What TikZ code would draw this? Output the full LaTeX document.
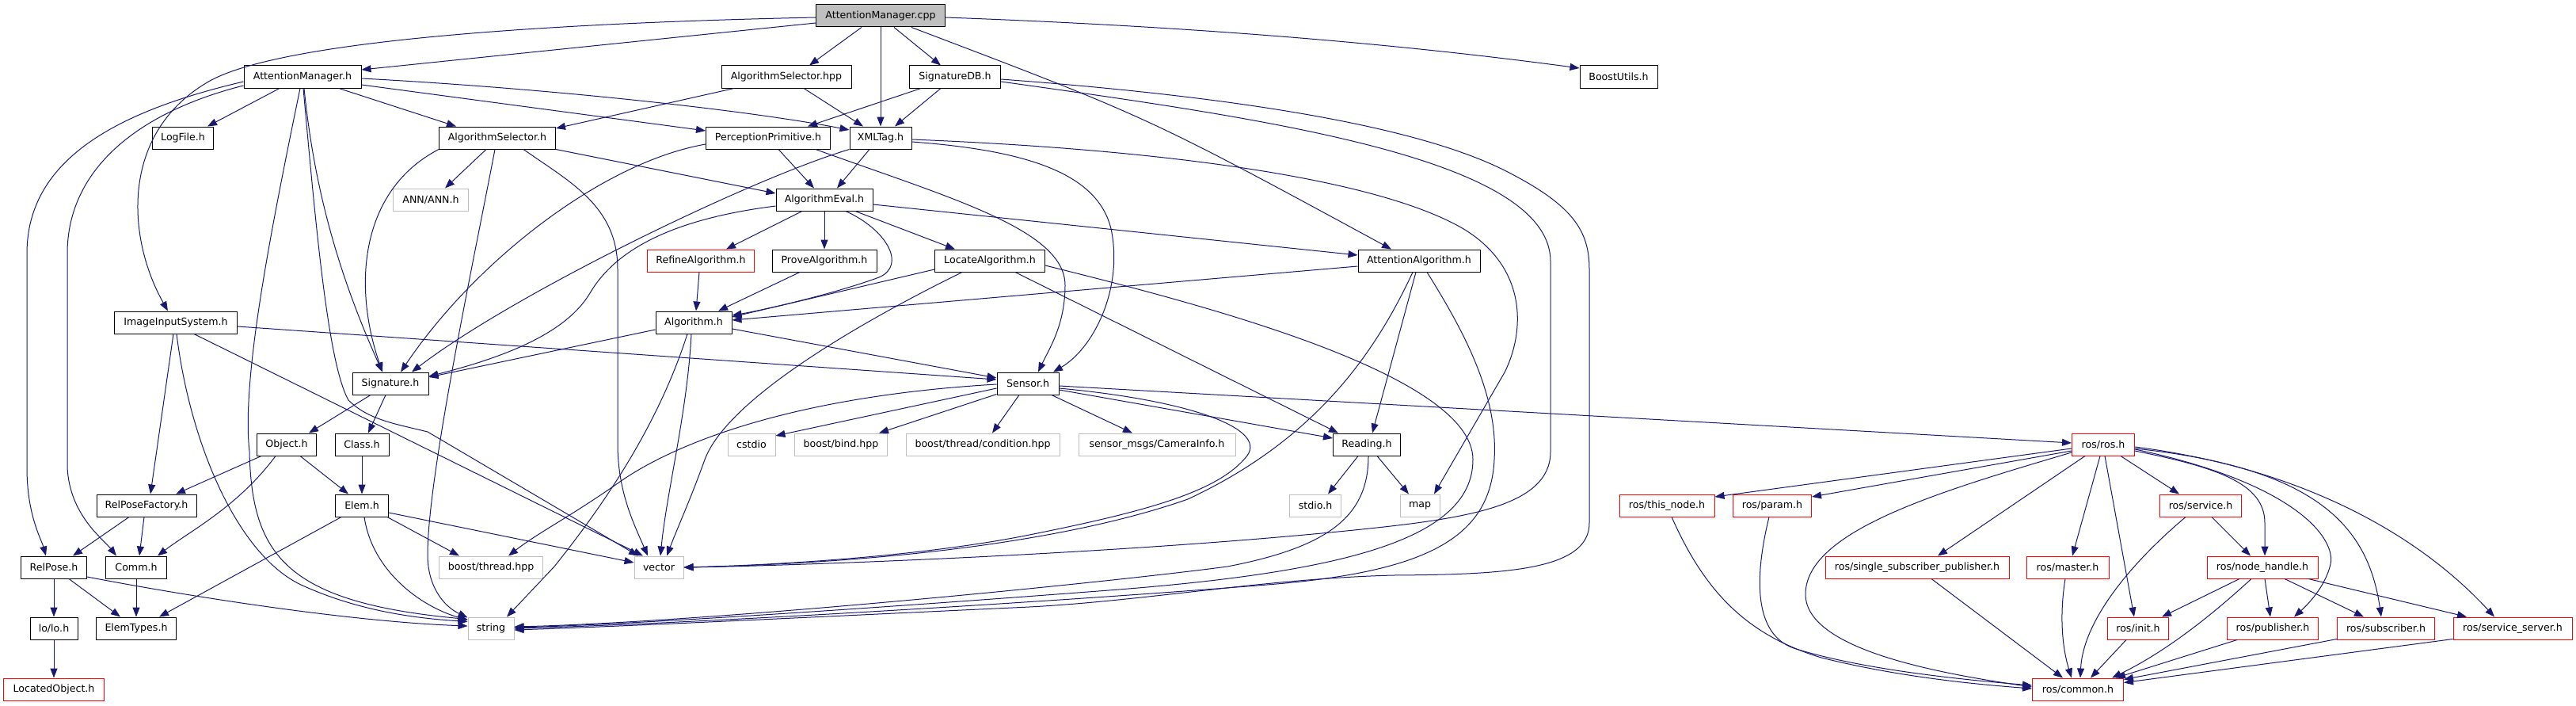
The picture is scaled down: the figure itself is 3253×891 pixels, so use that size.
\documentclass[tikz,border=0pt]{standalone}
\usepackage{fontspec}
\setmainfont{DejaVu Sans}
\usetikzlibrary{arrows.meta}
\definecolor{edgec}{HTML}{191970}
\definecolor{grayb}{HTML}{BFBFBF}
\definecolor{redb}{HTML}{FF0000}
\definecolor{rootf}{HTML}{BFBFBF}
\newcommand{\dgfont}{\fontsize{12.6pt}{15pt}\selectfont}
\tikzset{
  nodebox/.style={rectangle, minimum height=28pt, inner sep=0pt, line width=1pt, font=\dgfont, fill=white},
  nb/.style={nodebox, draw=black},
  gb/.style={nodebox, draw=grayb},
  rb/.style={nodebox, draw=redb},
  rootb/.style={nodebox, draw=black, fill=rootf},
  edg/.style={draw=edgec, line width=1pt, -{Triangle[length=12pt,width=9pt]}}
}
\begin{document}
\begin{tikzpicture}[x=1pt,y=-1pt]
\useasboundingbox (0,0) rectangle (3253,891);
% nodes
\node[rootb, minimum width=163pt] (cpp) at (1112,20) {AttentionManager.cpp};
\node[nb, minimum width=148pt] (amh) at (382,97) {AttentionManager.h};
\node[nb, minimum width=164pt] (ash) at (993,97) {AlgorithmSelector.hpp};
\node[nb, minimum width=115pt] (sdb) at (1206,97) {SignatureDB.h};
\node[nb, minimum width=98pt] (boost) at (2044,97) {BoostUtils.h};
\node[nb, minimum width=77pt] (log) at (231,174) {LogFile.h};
\node[nb, minimum width=147pt] (asel) at (628,174) {AlgorithmSelector.h};
\node[nb, minimum width=157pt] (pp) at (970,174) {PerceptionPrimitive.h};
\node[nb, minimum width=78pt] (xml) at (1112,174) {XMLTag.h};
\node[gb, minimum width=95pt] (ann) at (544,252) {ANN/ANN.h};
\node[nb, minimum width=122pt] (aev) at (1041,252) {AlgorithmEval.h};
\node[rb, minimum width=135pt] (ref) at (885,329) {RefineAlgorithm.h};
\node[nb, minimum width=132pt] (prove) at (1041,329) {ProveAlgorithm.h};
\node[nb, minimum width=139pt] (loc) at (1250,329) {LocateAlgorithm.h};
\node[nb, minimum width=154pt] (atta) at (1792,329) {AttentionAlgorithm.h};
\node[nb, minimum width=155pt] (iis) at (222,407) {ImageInputSystem.h};
\node[nb, minimum width=96pt] (alg) at (876,407) {Algorithm.h};
\node[nb, minimum width=96pt] (sig) at (493,484) {Signature.h};
\node[nb, minimum width=78pt] (sens) at (1298,484) {Sensor.h};
\node[nb, minimum width=75pt] (obj) at (362,561) {Object.h};
\node[nb, minimum width=68pt] (cls) at (457,561) {Class.h};
\node[gb, minimum width=60pt] (cstdio) at (949,561) {cstdio};
\node[gb, minimum width=117pt] (bbind) at (1062,561) {boost/bind.hpp};
\node[gb, minimum width=194pt] (bcond) at (1241,561) {boost/thread/condition.hpp};
\node[gb, minimum width=198pt] (cam) at (1461,561) {sensor\_msgs/CameraInfo.h};
\node[nb, minimum width=85pt] (read) at (1726,561) {Reading.h};
\node[rb, minimum width=79pt] (ros) at (2656,561) {ros/ros.h};
\node[nb, minimum width=126pt] (rpf) at (185,638) {RelPoseFactory.h};
\node[nb, minimum width=67pt] (elem) at (457,638) {Elem.h};
\node[gb, minimum width=65pt] (stdio) at (1661,638) {stdio.h};
\node[gb, minimum width=50pt] (map) at (1793,638) {map};
\node[rb, minimum width=120pt] (thisn) at (2105,638) {ros/this\_node.h};
\node[rb, minimum width=99pt] (param) at (2238,638) {ros/param.h};
\node[rb, minimum width=103pt] (serv) at (2779,638) {ros/service.h};
\node[nb, minimum width=83pt] (rp) at (68,716) {RelPose.h};
\node[nb, minimum width=77pt] (comm) at (172,716) {Comm.h};
\node[gb, minimum width=131pt] (bth) at (620,716) {boost/thread.hpp};
\node[gb, minimum width=62pt] (vec) at (832,716) {vector};
\node[rb, minimum width=232pt] (ssp) at (2421,716) {ros/single\_subscriber\_publisher.h};
\node[rb, minimum width=104pt] (master) at (2611,716) {ros/master.h};
\node[rb, minimum width=140pt] (nh) at (2857,716) {ros/node\_handle.h};
\node[nb, minimum width=60pt] (lo) at (68,793) {lo/lo.h};
\node[nb, minimum width=101pt] (et) at (172,793) {ElemTypes.h};
\node[gb, minimum width=58pt] (str) at (620,793) {string};
\node[rb, minimum width=77pt] (init) at (2700,793) {ros/init.h};
\node[rb, minimum width=115pt] (pub) at (2870,793) {ros/publisher.h};
\node[rb, minimum width=123pt] (sub) at (3013,793) {ros/subscriber.h};
\node[rb, minimum width=150pt] (ss) at (3173,793) {ros/service\_server.h};
\node[rb, minimum width=127pt] (locobj) at (68,870) {LocatedObject.h};
\node[rb, minimum width=115pt] (common) at (2624,870) {ros/common.h};
% cpp edges
\draw[edg] ([yshift=-9pt]cpp.west) -- ([yshift=9pt]amh.east);
\draw[edg] ([yshift=-2pt]cpp.west) .. controls (650,30) and (340,55) .. (260,105) .. controls (152,170) and (160,300) .. ([xshift=-10pt]iis.north);
\draw[edg] ([xshift=-24pt]cpp.south) -- ([xshift=29pt]ash.north);
\draw[edg] (cpp.south) -- (xml.north);
\draw[edg] ([xshift=17pt]cpp.south) -- ([xshift=-18pt]sdb.north);
\draw[edg] ([xshift=39pt]cpp.south) .. controls (1450,148) .. ([xshift=-35pt]atta.north);
\draw[edg] ([yshift=-2pt]cpp.east) .. controls (1550,35) and (1800,60) .. ([yshift=11pt]boost.west);
% amh edges
\draw[edg] ([xshift=-29pt]amh.south) -- ([xshift=31pt]log.north);
\draw[edg] ([xshift=46pt]amh.south) -- ([xshift=-52pt]asel.north);
\draw[edg] ([yshift=-10pt]amh.east) -- ([yshift=9pt]pp.west);
\draw[edg] ([yshift=-2pt]amh.east) .. controls (700,112) and (950,140) .. ([yshift=10pt]xml.west);
\draw[edg] ([xshift=2pt]amh.south) .. controls (395,220) and (420,330) .. ([xshift=-10pt]sig.north);
\draw[edg] ([xshift=1pt]amh.south) .. controls (400,300) and (415,460) .. (440,505) .. controls (465,530) and (500,535) .. (540,545) -- ([xshift=-26pt]vec.north);
\draw[edg] ([xshift=-3pt]amh.south) .. controls (340,300) and (305,480) .. (315,570) .. controls (318,700) and (360,760) .. ([yshift=-3pt]str.north west);
\draw[edg] ([yshift=-6pt]amh.west) .. controls (150,140) and (34,200) .. (34,320) -- (34,590) .. controls (34,650) and (52,680) .. ([xshift=-10pt]rp.north);
\draw[edg] ([yshift=-11pt]amh.west) .. controls (180,140) and (85,210) .. (85,320) -- (85,590) .. controls (88,650) and (130,680) .. ([xshift=-25pt]comm.north);
% AlgorithmSelector.hpp
\draw[edg] ([xshift=-66pt]ash.south) -- ([yshift=12pt]asel.east);
\draw[edg] ([xshift=22pt]ash.south) -- ([xshift=-22pt]xml.north);
% SignatureDB
\draw[edg] ([xshift=-43pt]sdb.south) -- ([xshift=50pt]pp.north);
\draw[edg] ([xshift=-18pt]sdb.south) -- ([xshift=18pt]xml.north);
\draw[edg] ([yshift=-6pt]sdb.east) .. controls (1600,150) and (1958,200) .. (1958,330) -- (1958,570) .. controls (1958,640) and (1850,655) .. (1700,670) .. controls (1400,700) and (1000,714) .. (vec.east);
\draw[edg] ([yshift=-3pt]sdb.east) .. controls (1600,125) and (1800,165) .. (1900,215) .. controls (1985,258) and (2007,290) .. (2007,340) -- (2007,660) .. controls (2007,720) and (1900,725) .. (1760,726) .. controls (1600,730) and (1450,758) .. (1300,766) .. controls (1000,780) and (800,790) .. ([yshift=-2pt]str.east);
% XMLTag
\draw[edg] ([xshift=-14pt]xml.south) -- ([xshift=16pt]aev.north);
\draw[edg] (xml.south west) .. controls (950,225) and (650,370) .. ([xshift=27pt]sig.north);
\draw[edg] ([yshift=-2pt]xml.east) .. controls (1500,190) and (1750,230) .. (1850,290) .. controls (1930,340) and (1925,420) .. (1900,470) -- ([xshift=18pt]map.north);
\draw[edg] ([yshift=-5pt]xml.east) .. controls (1300,190) and (1395,220) .. (1405,300) .. controls (1415,370) and (1380,440) .. ([xshift=32pt]sens.north);
% PerceptionPrimitive
\draw[edg] ([xshift=13pt]pp.south) -- ([xshift=-13pt]aev.north);
\draw[edg] ([yshift=-8pt]pp.west) .. controls (760,205) and (600,330) .. ([xshift=13pt]sig.north);
\draw[edg] ([xshift=60pt]pp.south) .. controls (1200,250) and (1345,290) .. (1345,360) .. controls (1345,410) and (1325,440) .. ([xshift=13pt]sens.north);
% AlgorithmSelector.h
\draw[edg] ([xshift=-14pt]asel.south) -- ([xshift=18pt]ann.north);
\draw[edg] (asel.south east) -- ([yshift=8pt]aev.west);
\draw[edg] (asel.south west) .. controls (455,240) and (445,360) .. ([xshift=-10pt]sig.north);
\draw[edg] ([xshift=33pt]asel.south) .. controls (720,230) and (780,260) .. (780,340) -- (780,560) .. controls (780,620) and (800,660) .. ([xshift=-14pt]vec.north);
\draw[edg] ([xshift=-3pt]asel.south) .. controls (600,320) and (540,600) .. (540,700) .. controls (540,740) and (560,765) .. ([yshift=-1pt]str.north west);
% AlgorithmEval
\draw[edg] ([xshift=-28pt]aev.south) -- ([xshift=32pt]ref.north);
\draw[edg] (aev.south) -- (prove.north);
\draw[edg] ([xshift=39pt]aev.south) -- ([xshift=-44pt]loc.north);
\draw[edg] ([xshift=27pt]aev.south) .. controls (1120,290) and (1145,335) .. (1110,350) .. controls (1050,372) and (960,392) .. ([yshift=9pt]alg.east);
\draw[edg] ([yshift=-6pt]aev.east) -- ([yshift=7pt]atta.west);
\draw[edg] ([yshift=-8pt]aev.west) .. controls (860,275) and (780,310) .. (745,370) .. controls (715,420) and (640,450) .. ([yshift=9pt]sig.east);
% Refine / Prove
\draw[edg] ([xshift=-2pt]ref.south) -- ([xshift=3pt]alg.north);
\draw[edg] ([xshift=-31pt]prove.south) -- ([xshift=31pt]alg.north);
% LocateAlgorithm
\draw[edg] ([yshift=-11pt]loc.west) -- ([yshift=7pt]alg.east);
\draw[edg] ([xshift=-35pt]loc.south) .. controls (1100,400) and (920,500) .. (890,580) .. controls (872,630) and (856,665) .. ([xshift=10pt]vec.north);
\draw[edg] ([xshift=32pt]loc.south) -- ([xshift=-36pt]read.north);
\draw[edg] ([yshift=-6pt]loc.east) .. controls (1500,380) and (1860,470) .. (1860,580) .. controls (1860,680) and (1700,722) .. (1400,745) .. controls (1100,768) and (800,788) .. ([yshift=1pt]str.east);
% AttentionAlgorithm
\draw[edg] ([yshift=-7pt]atta.west) -- ([yshift=3pt]alg.east);
\draw[edg] ([xshift=-8pt]atta.south) .. controls (1730,460) and (1650,560) .. (1500,630) .. controls (1300,700) and (1000,713) .. (vec.east);
\draw[edg] ([xshift=-4pt]atta.south) -- ([xshift=7pt]read.north);
\draw[edg] ([xshift=10pt]atta.south) .. controls (1850,420) and (1892,500) .. (1887,580) .. controls (1882,680) and (1800,722) .. (1600,738) .. controls (1300,762) and (850,788) .. (str.east);
% Reading
\draw[edg] ([xshift=-11pt]read.south) -- ([xshift=16pt]stdio.north);
\draw[edg] ([xshift=13pt]read.south) -- ([xshift=-14pt]map.north);
\draw[edg] ([xshift=2pt]read.south) .. controls (1728,650) and (1680,690) .. (1550,715) .. controls (1400,735) and (900,785) .. ([yshift=2pt]str.east);
% Algorithm
\draw[edg] ([yshift=-8pt]alg.east) -- ([yshift=7pt]sens.west);
\draw[edg] ([yshift=-9pt]alg.west) -- ([yshift=8pt]sig.east);
\draw[edg] ([xshift=-3pt]alg.south) .. controls (868,520) and (842,620) .. ([xshift=2pt]vec.north);
\draw[edg] ([xshift=-8pt]alg.south) .. controls (830,540) and (760,640) .. (700,715) -- ([xshift=20pt]str.north);
% ImageInputSystem
\draw[edg] ([yshift=-5pt]iis.east) -- ([yshift=5pt]sens.west);
\draw[edg] ([xshift=-3pt]iis.south) -- ([xshift=5pt]rpf.north);
\draw[edg] ([xshift=1pt]iis.south) .. controls (240,560) and (300,700) .. (380,738) .. controls (450,770) and (520,780) .. ([yshift=-6pt]str.north west);
\draw[edg] ([xshift=23pt]iis.south) -- ([xshift=-20pt]vec.north);
% Signature
\draw[edg] ([xshift=-25pt]sig.south) -- ([xshift=28pt]obj.north);
\draw[edg] ([xshift=-6pt]sig.south) -- ([xshift=8pt]cls.north);
% Object / Class
\draw[edg] ([xshift=-32pt]obj.south) -- ([xshift=37pt]rpf.north);
\draw[edg] ([xshift=-14pt]obj.south) .. controls (300,640) and (240,670) .. ([xshift=27pt]comm.north);
\draw[edg] ([xshift=17pt]obj.south) -- ([xshift=-17pt]elem.north);
\draw[edg] (cls.south) -- (elem.north);
% RelPoseFactory
\draw[edg] ([xshift=-22pt]rpf.south) -- ([xshift=24pt]rp.north);
\draw[edg] ([xshift=-3pt]rpf.south) -- ([xshift=4pt]comm.north);
% Elem
\draw[edg] ([xshift=-26pt]elem.south) -- ([xshift=29pt]et.north);
\draw[edg] ([xshift=3pt]elem.south) .. controls (470,720) and (530,765) .. ([yshift=-4pt]str.north west);
\draw[edg] ([xshift=32pt]elem.south) -- ([xshift=-40pt]bth.north);
\draw[edg] ([yshift=-9pt]elem.east) -- ([yshift=6pt]vec.west);
% RelPose / Comm / lo
\draw[edg] (rp.south) -- (lo.north);
\draw[edg] ([xshift=19pt]rp.south) -- ([xshift=-20pt]et.north);
\draw[edg] ([yshift=-12pt]rp.east) .. controls (250,755) and (450,785) .. ([yshift=3pt]str.west);
\draw[edg] (comm.south) -- (et.north);
\draw[edg] (lo.south) -- (locobj.north);
% Sensor
\draw[edg] ([yshift=-6pt]sens.west) -- ([yshift=11pt]cstdio.east);
\draw[edg] ([yshift=1pt]sens.south west) -- ([xshift=48pt]bbind.north);
\draw[edg] ([xshift=-11pt]sens.south) -- ([xshift=12pt]bcond.north);
\draw[edg] ([xshift=30pt]sens.south) -- ([xshift=-31pt]cam.north);
\draw[edg] ([yshift=-8pt]sens.east) -- ([yshift=8pt]read.west);
\draw[edg] ([yshift=-3pt]sens.east) -- ([yshift=2pt]ros.west);
\draw[edg] ([yshift=-6pt]sens.east) .. controls (1500,505) and (1600,540) .. (1575,575) .. controls (1540,620) and (1450,645) .. (1300,675) .. controls (1150,705) and (950,714) .. (vec.east);
\draw[edg] ([yshift=-1pt]sens.west) .. controls (1000,500) and (850,560) .. (780,610) .. controls (720,652) and (680,672) .. ([xshift=22pt]bth.north);
% ros/ros.h
\draw[edg] ([yshift=-5pt]ros.west) -- ([yshift=11pt]thisn.east);
\draw[edg] ([yshift=-8pt]ros.west) -- ([yshift=11pt]param.east);
\draw[edg] ([yshift=-10pt]ros.west) .. controls (2450,620) and (2280,670) .. (2280,750) .. controls (2280,820) and (2450,850) .. ([yshift=3pt]common.west);
\draw[edg] ([xshift=-23pt]ros.south) -- ([xshift=26pt]ssp.north);
\draw[edg] ([xshift=-4pt]ros.south) -- ([xshift=6pt]master.north);
\draw[edg] ([xshift=2pt]ros.south) -- ([xshift=-5pt]init.north);
\draw[edg] ([xshift=22pt]ros.south) -- ([xshift=-27pt]serv.north);
\draw[edg] ([yshift=-8pt]ros.east) .. controls (2800,590) and (2860,610) .. (2860,660) -- ([xshift=3pt]nh.north);
\draw[edg] ([yshift=-6pt]ros.east) .. controls (2900,610) and (2950,680) .. (2943,712) .. controls (2936,742) and (2912,765) .. ([xshift=27pt]pub.north);
\draw[edg] ([yshift=-5pt]ros.east) .. controls (2920,590) and (2990,660) .. ([xshift=-6pt]sub.north);
\draw[edg] ([yshift=-3pt]ros.east) .. controls (2900,590) and (3050,670) .. ([xshift=-23pt]ss.north);
% ros/service.h, node_handle
\draw[edg] ([xshift=14pt]serv.south) -- ([xshift=-15pt]nh.north);
\draw[edg] ([xshift=-19pt]serv.south) .. controls (2680,720) and (2630,790) .. ([xshift=3pt]common.north);
\draw[edg] ([xshift=-29pt]nh.south) -- ([xshift=30pt]init.north);
\draw[edg] ([xshift=-14pt]nh.south) .. controls (2800,770) and (2740,820) .. ([xshift=43pt]common.north);
\draw[edg] ([xshift=3pt]nh.south) -- ([xshift=-3pt]pub.north);
\draw[edg] ([xshift=28pt]nh.south) -- ([xshift=-28pt]sub.north);
\draw[edg] ([xshift=58pt]nh.south) -- ([xshift=-58pt]ss.north);
% into ros/common.h
\draw[edg] ([xshift=6pt]thisn.south) .. controls (2150,740) and (2200,800) .. (2300,830) .. controls (2400,855) and (2500,864) .. ([yshift=1pt]common.west);
\draw[edg] ([xshift=-4pt]param.south) .. controls (2215,730) and (2215,800) .. (2265,818) .. controls (2350,845) and (2480,858) .. ([yshift=5pt]common.west);
\draw[edg] ([xshift=18pt]ssp.south) -- ([xshift=-19pt]common.north);
\draw[edg] ([xshift=-3pt]master.south) .. controls (2600,780) and (2605,820) .. ([xshift=-8pt]common.north);
\draw[edg] ([xshift=-15pt]init.south) -- ([xshift=16pt]common.north);
\draw[edg] ([xshift=-45pt]pub.south) -- ([xshift=-10pt]common.north east);
\draw[edg] ([yshift=1pt]sub.south west) -- ([yshift=-2pt]common.north east);
\draw[edg] ([yshift=1pt]ss.south west) -- ([yshift=-6pt]common.north east);
\end{tikzpicture}
\end{document}
